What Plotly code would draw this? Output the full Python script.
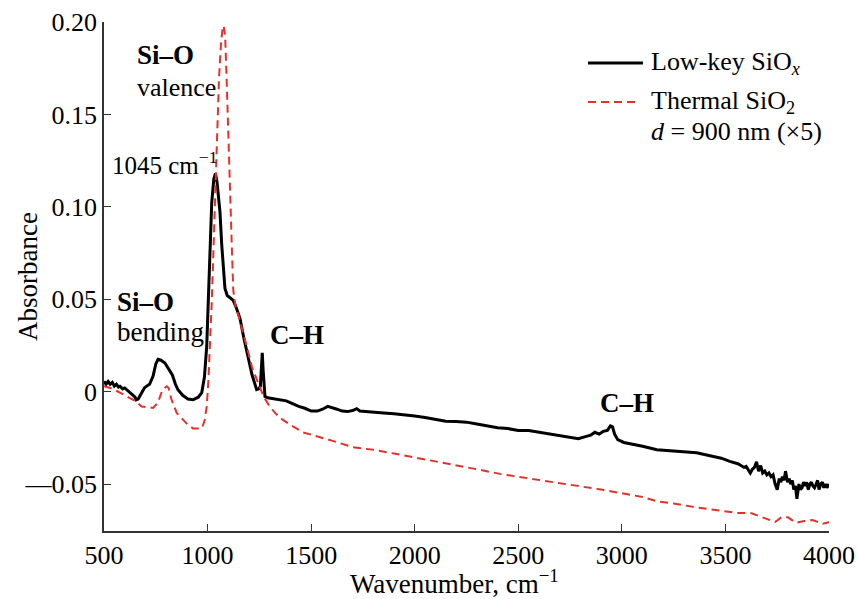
import plotly.graph_objects as go

# Low-key SiOx (black)
wn_lowkey = [500, 510, 520, 530, 540, 550, 560, 570, 577, 590, 600, 610, 620, 630, 640, 650, 655, 665, 680,
             695, 706, 720, 737, 750, 761, 775, 794, 805, 812, 819, 830, 845, 857, 880, 905, 930, 955, 972,
             985, 996, 1004, 1011, 1020, 1030, 1038, 1046, 1053, 1060, 1068, 1076, 1084, 1095, 1110, 1124,
             1140, 1157, 1175, 1195, 1215, 1237, 1248, 1255, 1260, 1264, 1268, 1272, 1277, 1290, 1320, 1350,
             1380, 1410, 1440, 1470, 1500, 1530, 1555, 1580, 1600, 1625, 1650, 1675, 1700, 1720, 1735, 1760,
             1800, 1850, 1900, 1950, 2000, 2050, 2100, 2150, 2200, 2250, 2300, 2350, 2400, 2450, 2500, 2550,
             2600, 2650, 2700, 2750, 2790, 2820, 2850, 2870, 2890, 2910, 2930, 2945, 2955, 2965, 2980, 3010,
             3060, 3100, 3169, 3250, 3300, 3361, 3420, 3480, 3521, 3545, 3560, 3575, 3590, 3600, 3610, 3620,
             3630, 3640, 3650, 3660, 3670, 3680, 3690, 3700, 3710, 3720, 3730, 3740, 3750, 3760, 3768, 3775,
             3783, 3790, 3800, 3808, 3815, 3823, 3830, 3838, 3845, 3855, 3862, 3870, 3877, 3885, 3892, 3900,
             3908, 3915, 3922, 3930, 3938, 3945, 3952, 3960, 3968, 3975, 3983, 3990, 4000]
abs_lowkey = [0.0056, 0.004, 0.0055, 0.004, 0.005, 0.003, 0.004, 0.0025, 0.0029, 0.0015, 0.002, 0.001,
              0.0005, -0.0005, -0.002, -0.003, -0.0044, -0.004, -0.001, 0.002, 0.003, 0.004, 0.0084, 0.015,
              0.0175, 0.017, 0.0155, 0.0135, 0.013, 0.011, 0.009, 0.004, 0.001, -0.002, -0.004, -0.0044,
              -0.003, -0.0005, 0.008, 0.0248, 0.05, 0.0795, 0.102, 0.115, 0.118, 0.113, 0.105, 0.097, 0.08,
              0.066, 0.0558, 0.052, 0.0505, 0.0494, 0.045, 0.0394, 0.029, 0.0193, 0.009, 0.0011, 0.0015,
              0.003, 0.014, 0.021, 0.012, 0.002, -0.0026, -0.0033, -0.004, -0.0045, -0.005, -0.0065, -0.008,
              -0.009, -0.0105, -0.0105, -0.0095, -0.008, -0.0085, -0.0095, -0.0105, -0.0108, -0.0102,
              -0.0092, -0.0105, -0.0108, -0.011, -0.0115, -0.012, -0.0125, -0.0132, -0.014, -0.015, -0.016,
              -0.0162, -0.0165, -0.0175, -0.0185, -0.0195, -0.020, -0.021, -0.021, -0.022, -0.023, -0.024,
              -0.025, -0.0255, -0.0245, -0.0235, -0.022, -0.023, -0.0215, -0.021, -0.0185, -0.019, -0.023,
              -0.026, -0.0275, -0.0285, -0.0295, -0.0314, -0.032, -0.0325, -0.0331, -0.0345, -0.036, -0.0377,
              -0.0385, -0.039, -0.040, -0.041, -0.0405, -0.042, -0.044, -0.042, -0.041, -0.038, -0.043, -0.040,
              -0.044, -0.043, -0.045, -0.044, -0.046, -0.045, -0.050, -0.053, -0.047, -0.049, -0.046, -0.048,
              -0.043, -0.049, -0.047, -0.050, -0.048, -0.053, -0.051, -0.058, -0.050, -0.053, -0.052, -0.049,
              -0.051, -0.049, -0.053, -0.050, -0.049, -0.051, -0.052, -0.050, -0.048, -0.053, -0.050, -0.049,
              -0.052, -0.050, -0.052, -0.050]

# Thermal SiO2, d = 900 nm (x5) (red dashed)
wn_thermal = [500, 530, 577, 620, 650, 682, 710, 737, 760, 779, 792, 803, 812, 825, 851, 880, 905, 930, 955,
              972, 985, 996, 1004, 1012, 1020, 1026, 1031, 1036, 1044, 1055, 1065, 1072, 1078, 1085, 1092,
              1100, 1105, 1112, 1118, 1124, 1135, 1150, 1165, 1180, 1197, 1215, 1237, 1255, 1270, 1300, 1330,
              1360, 1400, 1460, 1510, 1600, 1700, 1800, 1900, 2017, 2100, 2200, 2300, 2412, 2500, 2600, 2700,
              2798, 2900, 3000, 3100, 3169, 3250, 3350, 3450, 3553, 3626, 3682, 3740, 3770, 3802, 3840, 3880,
              3920, 3970, 4000]
abs_thermal = [0.0029, 0.002, -0.0005, -0.003, -0.005, -0.008, -0.0085, -0.0088, -0.006, 0.0, 0.002, 0.0029,
               0.002, -0.004, -0.0115, -0.015, -0.018, -0.0199, -0.0199, -0.0199, -0.016, -0.008, 0.006, 0.025,
               0.048, 0.068, 0.085, 0.108, 0.140, 0.169, 0.189, 0.196, 0.198, 0.192, 0.169, 0.140, 0.110,
               0.090, 0.075, 0.055, 0.046, 0.041, 0.035, 0.028, 0.021, 0.013, 0.0066, 0.001, -0.0026, -0.008,
               -0.012, -0.015, -0.018, -0.022, -0.0235, -0.0265, -0.030, -0.0315, -0.0335, -0.036, -0.0375,
               -0.0395, -0.042, -0.0445, -0.046, -0.048, -0.0495, -0.051, -0.053, -0.055, -0.057, -0.0593,
               -0.0605, -0.0625, -0.064, -0.0656, -0.0658, -0.0683, -0.0705, -0.068, -0.068, -0.071, -0.070,
               -0.0695, -0.0714, -0.0706]

x_ticks = [500, 1000, 1500, 2000, 2500, 3000, 3500, 4000]
y_ticks = [0.20, 0.15, 0.10, 0.05, 0, -0.05]
y_ticktext = ["0.20", "0.15", "0.10", "0.05", "0", "\u20140.05"]

x_title = "Wavenumber, cm<sup>\u22121</sup>"
y_title = "Absorbance"
legend_labels = ["Low-key SiO<sub><i>x</i></sub>", "Thermal SiO<sub>2</sub>", "<i>d</i> = 900 nm (\u00d75)"]

FONT = "Liberation Serif"
FS = 26
TICK_FS = 26
TITLE_FS = 27
BLACK = "black"
RED = "#e8302a"

fig = go.Figure()
fig.add_trace(go.Scatter(x=wn_lowkey, y=abs_lowkey, mode="lines", name=legend_labels[0],
                         line=dict(color=BLACK, width=3), showlegend=False))
fig.add_trace(go.Scatter(x=wn_thermal, y=abs_thermal, mode="lines", name=legend_labels[1],
                         line=dict(color=RED, width=2, dash="8px,5px"), showlegend=False))

ann_font = dict(family=FONT, size=FS, color="black")
annotations = [
    dict(x=650, y=0.1821, text="<b>Si\u2013O</b>", size=27),
    dict(x=650, y=0.1643, text="valence", size=26),
    dict(x=529, y=0.1237, text="1045 cm<sup>\u22121</sup>", size=25),
    dict(x=553, y=0.0485, text="<b>Si\u2013O</b>", size=27),
    dict(x=553, y=0.0323, text="bending", size=27),
    dict(x=1292, y=0.0307, text="<b>C\u2013H</b>", size=27),
    dict(x=2885, y=-0.0062, text="<b>C\u2013H</b>", size=27),
]
for a in annotations:
    sz = a.pop("size")
    a.update(xref="x", yref="y", xanchor="left", yanchor="middle", showarrow=False,
             font=dict(family=FONT, size=sz, color="black"))

# manual legend (paper coords)
leg_rows_y = [0.9194, 0.8428, 0.7839]
leg_line_x0, leg_line_x1_solid, leg_line_x1_dash = 0.6676, 0.7434, 0.7324
leg_text_x = 0.7517
for i, lbl in enumerate(legend_labels):
    annotations.append(dict(x=leg_text_x, y=leg_rows_y[i], xref="paper", yref="paper", xanchor="left",
                            yanchor="middle", showarrow=False, text=lbl, font=ann_font))
shapes = [
    dict(type="line", xref="paper", yref="paper", x0=leg_line_x0, x1=leg_line_x1_solid,
         y0=leg_rows_y[0], y1=leg_rows_y[0], line=dict(color=BLACK, width=3)),
    dict(type="line", xref="paper", yref="paper", x0=leg_line_x0, x1=leg_line_x1_dash,
         y0=leg_rows_y[1], y1=leg_rows_y[1], line=dict(color=RED, width=2, dash="8px,5px")),
]

# axis titles as annotations for exact placement
annotations.append(dict(x=0.483, y=-0.1, xref="paper", yref="paper", xanchor="center", yanchor="middle",
                        showarrow=False, text=x_title, font=dict(family=FONT, size=TITLE_FS, color="black")))
annotations.append(dict(x=-0.1048, y=0.499, xref="paper", yref="paper", xanchor="center", yanchor="middle",
                        showarrow=False, text=y_title, textangle=-90,
                        font=dict(family=FONT, size=TITLE_FS, color="black")))

fig.update_layout(
    width=858, height=599,
    margin=dict(l=104, r=29, t=22, b=68, autoexpand=False),
    plot_bgcolor="white", paper_bgcolor="white",
    font=dict(family=FONT, size=FS, color="black"),
    showlegend=False,
    annotations=annotations,
    shapes=shapes,
)
fig.update_xaxes(range=[500, 4000], tickvals=x_ticks, ticks="inside", ticklen=7, tickwidth=1.2,
                 tickcolor="#333", showline=True, linecolor="#333", linewidth=1.5, showgrid=False,
                 zeroline=False, automargin=False, tickfont=dict(family=FONT, size=TICK_FS, color="black"))
fig.update_yaxes(range=[-0.0754, 0.2], tickvals=y_ticks, ticktext=y_ticktext, ticks="inside", ticklen=7,
                 tickwidth=1.2, tickcolor="#333", showline=True, linecolor="#333", linewidth=1.5,
                 showgrid=False, zeroline=False, automargin=False,
                 tickfont=dict(family=FONT, size=TICK_FS, color="black"))

fig.write_html("out.html", config={"displayModeBar": False},
               post_script="document.body.style.margin='0px';")
